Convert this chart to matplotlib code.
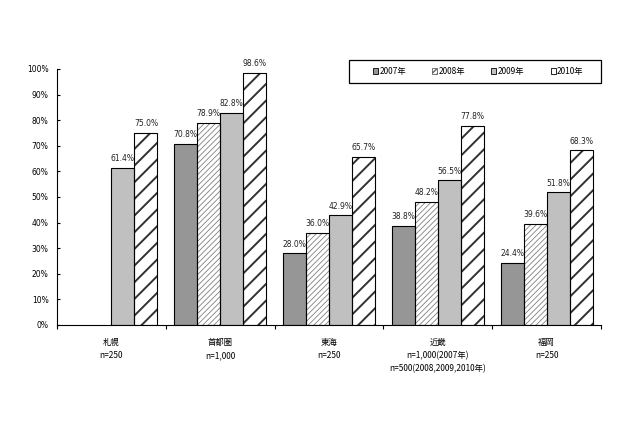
import matplotlib
matplotlib.use("Agg")
import matplotlib.pyplot as plt
import numpy as np
from matplotlib.patches import Patch, Rectangle

plt.rcParams['font.family'] = ['Noto Sans CJK JP', 'DejaVu Sans']

categories = ["札幌\nn=250", "首都圏\nn=1,000", "東海\nn=250",
              "近畿\nn=1,000(2007年)\nn=500(2008,2009,2010年)", "福岡\nn=250"]
series_names = ["2007年", "2008年", "2009年", "2010年"]
v2007 = [np.nan, 70.8, 28.0, 38.8, 24.4]
v2008 = [np.nan, 78.9, 36.0, 48.2, 39.6]
v2009 = [61.4, 82.8, 42.9, 56.5, 51.8]
v2010 = [75.0, 98.6, 65.7, 77.8, 68.3]
yticks = [0, 10, 20, 30, 40, 50, 60, 70, 80, 90, 100]

fig = plt.figure(figsize=(6.4, 4.26), dpi=100)
ax = fig.add_axes([57/640, 1-325/426, 544/640, 256/426])

x = np.arange(len(categories))
w = 0.2115
offs = [-1.5*w, -0.5*w, 0.5*w, 1.5*w]
series = [v2007, v2008, v2009, v2010]

def hbar(xs, vals, face, hatch, hcolor, hlw):
    b = ax.bar(xs, vals, w, color=face, edgecolor=hcolor, linewidth=0, hatch=hatch, zorder=2)
    for p in b:
        try:
            p.set_hatch_linewidth(hlw)
        except Exception:
            pass
    ax.bar(xs, vals, w, fill=False, edgecolor='black', linewidth=0.8, zorder=3)
    return b

hbar(x+offs[0], v2007, '#969696', None, 'black', 0.8)
hbar(x+offs[1], v2008, 'white', '//////', '#808080', 0.6)
hbar(x+offs[2], v2009, '#c0c0c0', None, 'black', 0.8)
hbar(x+offs[3], v2010, 'white', '//', '#303030', 1.4)

for s, o in zip(series, offs):
    for xi, v in zip(x, s):
        if not np.isnan(v):
            ax.text(xi+o, v+1.8, f"{v:.1f}%", ha='center', va='bottom',
                    fontsize=5.5, color='#222222', family=['DejaVu Sans'])

ax.set_xlim(-0.5, len(categories)-0.5)
ax.set_ylim(0, 100)
ax.set_yticks(yticks)
ax.set_yticklabels([f"{t}%" for t in yticks], fontsize=5.5, family=['DejaVu Sans'])
ax.tick_params(axis='y', direction='in', length=2.5, width=0.8, pad=6)
ax.set_xticks(np.arange(len(categories)+1)-0.5)
ax.set_xticklabels([])
ax.tick_params(axis='x', direction='out', length=3, width=0.8)
for xi, c in zip(x, categories):
    ax.text(xi, -5.0, c, ha='center', va='top', fontsize=6, linespacing=1.6,
            transform=ax.transData, clip_on=False)
for sp in ['top', 'right']:
    ax.spines[sp].set_visible(False)
ax.spines['left'].set_linewidth(0.8)
ax.spines['bottom'].set_linewidth(0.8)

# legend frame
fig.patches.append(Rectangle((349/640, 1-83/426), (601-349)/640, 23/426,
                             transform=fig.transFigure, facecolor='white',
                             edgecolor='black', linewidth=0.9, zorder=1))
handles = [Patch(facecolor='#969696', edgecolor='black', linewidth=0.6),
           Patch(facecolor='white', edgecolor='#606060', hatch='//////', linewidth=0.6),
           Patch(facecolor='#c0c0c0', edgecolor='black', linewidth=0.6),
           Patch(facecolor='white', edgecolor='black', hatch='//', linewidth=0.6)]
leg = fig.legend(handles, series_names, ncol=4, loc='center left',
                 bbox_to_anchor=(373/640, 1-71.5/426), bbox_transform=fig.transFigure,
                 fontsize=6, handlelength=0.6, handleheight=0.6, handletextpad=0.2,
                 columnspacing=3.1, borderpad=0, frameon=False, borderaxespad=0)

fig.savefig("out.png", dpi=100)
